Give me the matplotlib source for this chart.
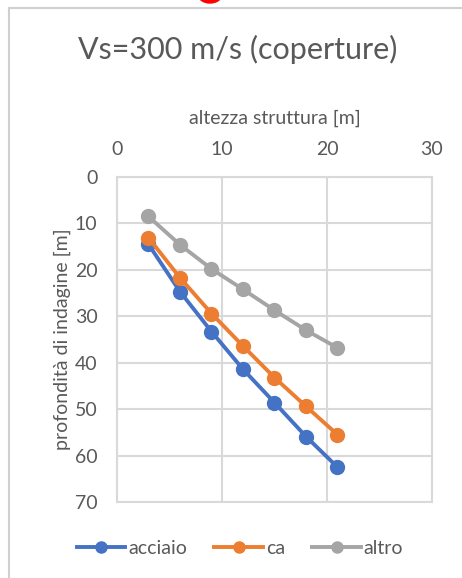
import matplotlib
matplotlib.use("Agg")
import matplotlib.pyplot as plt
from matplotlib.lines import Line2D
from matplotlib.patches import Ellipse

plt.rcParams['font.family'] = ['Lato', 'DejaVu Sans']

altezza = [3, 6, 9, 12, 15, 18, 21]
acciaio = [14.5, 24.7, 33.3, 41.4, 48.6, 55.9, 62.5]
ca = [13.1, 21.7, 29.4, 36.4, 43.2, 49.4, 55.5]
altro = [8.5, 14.6, 19.8, 24.2, 28.7, 33.0, 36.8]
series_names = ['acciaio', 'ca', 'altro']
colors = ['#4472C4', '#ED7D31', '#A5A5A5']
xticks = [0, 10, 20, 30]
yticks = [0, 10, 20, 30, 40, 50, 60, 70]

W, H = 462, 578
fig = plt.figure(figsize=(W / 100, H / 100), dpi=100)
fig.patch.set_facecolor('white')

# outer frame
fig.add_artist(Line2D([9 / W, 9 / W], [0, 1 - 8 / H], color='#d0d0d0', lw=1.5))
fig.add_artist(Line2D([9 / W, 1], [1 - 8 / H, 1 - 8 / H], color='#d0d0d0', lw=1.5))
fig.add_artist(Ellipse((210 / W, 1 + 4 / H), 22 / W, 14 / H, color='#ff0000', transform=fig.transFigure))

left, right, top, bottom = 117, 432, 177, 502
ax = fig.add_axes([left / W, 1 - bottom / H, (right - left) / W, (bottom - top) / H])

for vals, name, c in zip([acciaio, ca, altro], series_names, colors):
    ax.plot(altezza, vals, color=c, lw=2.8, marker='o', markersize=10, label=name, zorder=3)

ax.set_xlim(0, 30)
ax.set_ylim(70, 0)
ax.set_xticks(xticks)
ax.set_yticks(yticks)
ax.xaxis.tick_top()
ax.xaxis.set_label_position('top')
ax.grid(True, color='#d9d9d9', lw=1.5)
ax.set_axisbelow(True)
for s in ax.spines.values():
    s.set_color('#d9d9d9')
    s.set_linewidth(1.5)
ax.tick_params(length=0, labelsize=14, labelcolor='#595959')
ax.tick_params(axis='x', pad=14)
ax.tick_params(axis='y', pad=14)
ax.set_xlabel('altezza struttura [m]', fontsize=14, color='#595959', labelpad=12)
ax.set_ylabel('profondità di indagine [m]', fontsize=14, color='#595959', labelpad=3)

fig.text(238 / W, 1 - 49 / H, 'Vs=300 m/s (coperture)', ha='center', va='center',
         fontsize=22, color='#595959')

handles = [Line2D([], [], color=c, lw=2.8, marker='o', markersize=8) for c in colors]
leg = fig.legend(handles, series_names, loc='center', bbox_to_anchor=(240 / W, 1 - 548 / H),
                 ncol=3, frameon=False, fontsize=14, handlelength=2.5, columnspacing=1.4,
                 handletextpad=0.15)
for t in leg.get_texts():
    t.set_color('#595959')

fig.savefig('out.png', dpi=100)
